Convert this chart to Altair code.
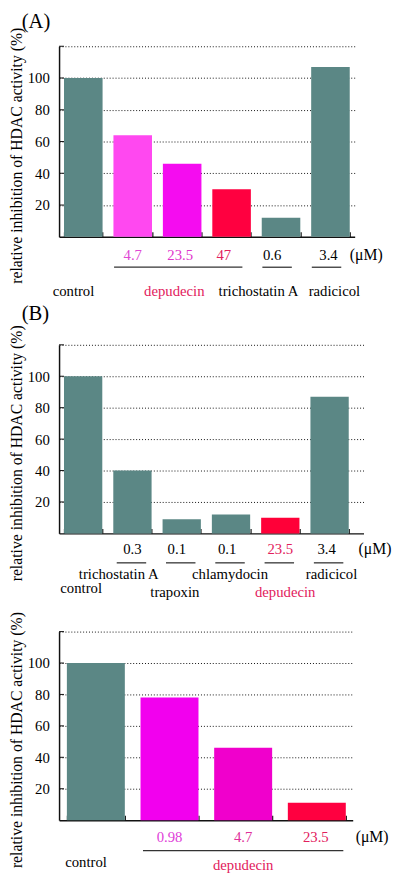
import altair as alt
import pandas as pd

FONT = "Liberation Serif"
GRAY = "#5b8785"
RED = "#ff0040"
DEP_TEXT = "#e2205c"
Y_TITLE = "relative inhibition of HDAC activity (%)"
GRID_VALUES = [20, 40, 60, 80, 100, 120]
UNIT = "(\u03bcM)"

# ---------------- Panel A data ----------------
A_CATS = ["control", "dep 4.7", "dep 23.5", "dep 47", "tsa 0.6", "rad 3.4"]
A_VALUES = [100, 64, 46, 30, 12, 107]
A_BAR_COLORS = [GRAY, "#ff48f0", "#f50cf0", RED, GRAY, GRAY]
A_CONC = ["4.7", "23.5", "47", "0.6", "3.4"]
A_CONC_CATS = ["dep 4.7", "dep 23.5", "dep 47", "tsa 0.6", "rad 3.4"]
A_CONC_COLORS = ["#e048d4", "#e034cc", DEP_TEXT, "black", "black"]
A_NAMES = ["control", "depudecin", "trichostatin A", "radicicol"]
A_NAME_CATS = ["control", "dep 23.5", "tsa 0.6", "rad 3.4"]
A_NAME_COLORS = ["black", DEP_TEXT, "black", "black"]
A_LINE_START = ["dep 4.7", "tsa 0.6", "rad 3.4"]
A_LINE_END = ["dep 47", "tsa 0.6", "rad 3.4"]

# ---------------- Panel B data ----------------
B_CATS = ["control", "tsa 0.3", "trap 0.1", "chlam 0.1", "dep 23.5", "rad 3.4"]
B_VALUES = [100, 40, 9, 12, 10, 87]
B_BAR_COLORS = [GRAY, GRAY, GRAY, GRAY, "#ff0038", GRAY]
B_CONC = ["0.3", "0.1", "0.1", "23.5", "3.4"]
B_CONC_CATS = ["tsa 0.3", "trap 0.1", "chlam 0.1", "dep 23.5", "rad 3.4"]
B_CONC_COLORS = ["black", "black", "black", DEP_TEXT, "black"]
B_NAMES = ["trichostatin A", "chlamydocin", "radicicol", "control", "trapoxin", "depudecin"]
B_NAME_CATS = ["tsa 0.3", "chlam 0.1", "rad 3.4", "control", "trap 0.1", "dep 23.5"]
B_NAME_COLORS = ["black", "black", "black", "black", "black", DEP_TEXT]
B_LINE_START = ["tsa 0.3", "trap 0.1", "chlam 0.1", "dep 23.5", "rad 3.4"]
B_LINE_END = ["tsa 0.3", "trap 0.1", "chlam 0.1", "dep 23.5", "rad 3.4"]

# ---------------- Panel C data ----------------
C_CATS = ["control", "dep 0.98", "dep 4.7", "dep 23.5"]
C_VALUES = [100, 78, 46, 11]
C_BAR_COLORS = [GRAY, "#f200ee", "#f000cc", RED]
C_CONC = ["0.98", "4.7", "23.5"]
C_CONC_CATS = ["dep 0.98", "dep 4.7", "dep 23.5"]
C_CONC_COLORS = ["#e040d8", "#e0309a", DEP_TEXT]
C_NAMES = ["control", "depudecin"]
C_NAME_CATS = ["control", "dep 4.7"]
C_NAME_COLORS = ["black", DEP_TEXT]
C_LINE_START = ["dep 0.98"]
C_LINE_END = ["dep 23.5"]

# ---------------- layout (pixels) ----------------
A_LAYOUT = dict(tag="(A)", tag_x=-38, tag_y=-25, width=301, height=194,
                pi=0.22, po=0.1, align=0.5,
                conc_dy=19, conc_dx=[0, -2, -8, -9, -2],
                line_dy=31, line_off=(-19, 11),
                name_dy=[55, 55, 55, 55], name_dx=[-10, -8, -23, 4], unit_x=296)
B_LAYOUT = dict(tag="(B)", tag_x=-38, tag_y=-31, width=310, height=192,
                pi=0.223, po=0.2, align=0.25,
                conc_dy=16, conc_dx=[0, -5, -4, 0, -3],
                line_dy=30, line_off=(-16, 14),
                name_dy=[41, 41, 41, 56, 60, 60], name_dx=[-14, -1, 2, -2, -7, 5], unit_x=305)
C_LAYOUT = dict(tag=None, width=299, height=192,
                pi=0.213, po=0.1, align=0.53,
                conc_dy=17, conc_dx=[0, 0, -1],
                line_dy=31, line_off=(-27, 27),
                name_dy=[43, 46], name_dx=[-10, 0], unit_x=302)
SPACING_AB = 110
SPACING_BC = 100


def make_panel(cats, values, bar_colors, conc, conc_cats, conc_colors,
               names, name_cats, name_colors, line_start, line_end, L):
    W, H = L["width"], L["height"]
    xscale = alt.Scale(domain=cats, paddingInner=L["pi"], paddingOuter=L["po"], align=L["align"])
    yscale = alt.Scale(domain=[0, 120], nice=False, zero=True)

    yaxis = alt.Axis(
        values=GRID_VALUES,
        labelExpr="datum.value == 120 ? '' : datum.label",
        grid=True, gridDash=[1, 2], gridColor="#111", gridWidth=1,
        ticks=False, domain=True, domainColor="#111", domainWidth=1.5,
        labelFont=FONT, labelFontSize=15, labelColor="black", labelPadding=10,
        title=Y_TITLE, titleFont=FONT, titleFontSize=16, titleFontWeight="normal",
        titleColor="black", titlePadding=3, titleY=H / 2 + 14,
    )
    xaxis = alt.Axis(
        orient="top", offset=-H, labels=False, title=None, grid=False,
        domain=True, domainColor="#111", domainWidth=1.5,
        ticks=True, tickBand="extent", tickSize=5, tickColor="#111", tickWidth=1.2,
    )

    def xenc(field):
        return alt.X(field, scale=xscale, axis=xaxis)

    def text_layer(cat, text, color, dx, y, size=15):
        d = pd.DataFrame({"cat": [cat], "t": [text]})
        return alt.Chart(d).mark_text(
            font=FONT, fontSize=size, color=color, dx=dx, align="center", baseline="middle"
        ).encode(x=xenc("cat:N"), y=alt.value(y), text="t:N")

    def free_text(text, x, y, size=15, align="left"):
        d = pd.DataFrame({"t": [text]})
        return alt.Chart(d).mark_text(
            font=FONT, fontSize=size, color="black", align=align, baseline="middle"
        ).encode(x=alt.value(x), y=alt.value(y), text="t:N")

    df = pd.DataFrame({"cat": cats, "value": values, "color": bar_colors})
    bars = alt.Chart(df).mark_bar().encode(
        x=xenc("cat:N"),
        y=alt.Y("value:Q", scale=yscale, axis=yaxis),
        color=alt.Color("color:N", scale=None),
    )

    ytick_df = pd.DataFrame({"value": GRID_VALUES})
    yticks = alt.Chart(ytick_df).mark_rule(color="#111", strokeWidth=1).encode(
        x=alt.value(0), x2=alt.value(5),
        y=alt.Y("value:Q", scale=yscale, axis=yaxis),
    )

    line_df = pd.DataFrame({"cat": line_start, "end": line_end})
    lines = alt.Chart(line_df).mark_rule(
        color="#333", strokeWidth=1.3, xOffset=L["line_off"][0], x2Offset=L["line_off"][1]
    ).encode(
        x=xenc("cat:N"),
        x2=alt.X2("end:N"),
        y=alt.value(H + L["line_dy"]),
    )

    layers = [bars, yticks, lines]
    for c, t, col, dx in zip(conc_cats, conc, conc_colors, L["conc_dx"]):
        layers.append(text_layer(c, t, col, dx, H + L["conc_dy"]))
    for c, t, col, dx, dy in zip(name_cats, names, name_colors, L["name_dx"], L["name_dy"]):
        layers.append(text_layer(c, t, col, dx, H + dy))
    layers.append(free_text(UNIT, L["unit_x"], H + L["conc_dy"], size=16))
    if L.get("tag"):
        layers.append(free_text(L["tag"], L["tag_x"], L["tag_y"], size=21))

    return alt.layer(*layers).properties(width=W, height=H)


pA = make_panel(A_CATS, A_VALUES, A_BAR_COLORS, A_CONC, A_CONC_CATS, A_CONC_COLORS,
                A_NAMES, A_NAME_CATS, A_NAME_COLORS, A_LINE_START, A_LINE_END, A_LAYOUT)
pB = make_panel(B_CATS, B_VALUES, B_BAR_COLORS, B_CONC, B_CONC_CATS, B_CONC_COLORS,
                B_NAMES, B_NAME_CATS, B_NAME_COLORS, B_LINE_START, B_LINE_END, B_LAYOUT)
pC = make_panel(C_CATS, C_VALUES, C_BAR_COLORS, C_CONC, C_CONC_CATS, C_CONC_COLORS,
                C_NAMES, C_NAME_CATS, C_NAME_COLORS, C_LINE_START, C_LINE_END, C_LAYOUT)

chart = alt.vconcat(
    pA,
    alt.vconcat(pB, pC, spacing=SPACING_BC, bounds="flush"),
    spacing=SPACING_AB, bounds="flush",
).properties(
    padding={"top": -5, "left": 0, "right": 0, "bottom": 0}, background="white"
).configure_view(strokeWidth=0)

chart.save("out.html", embed_options={"renderer": "svg", "actions": False})
